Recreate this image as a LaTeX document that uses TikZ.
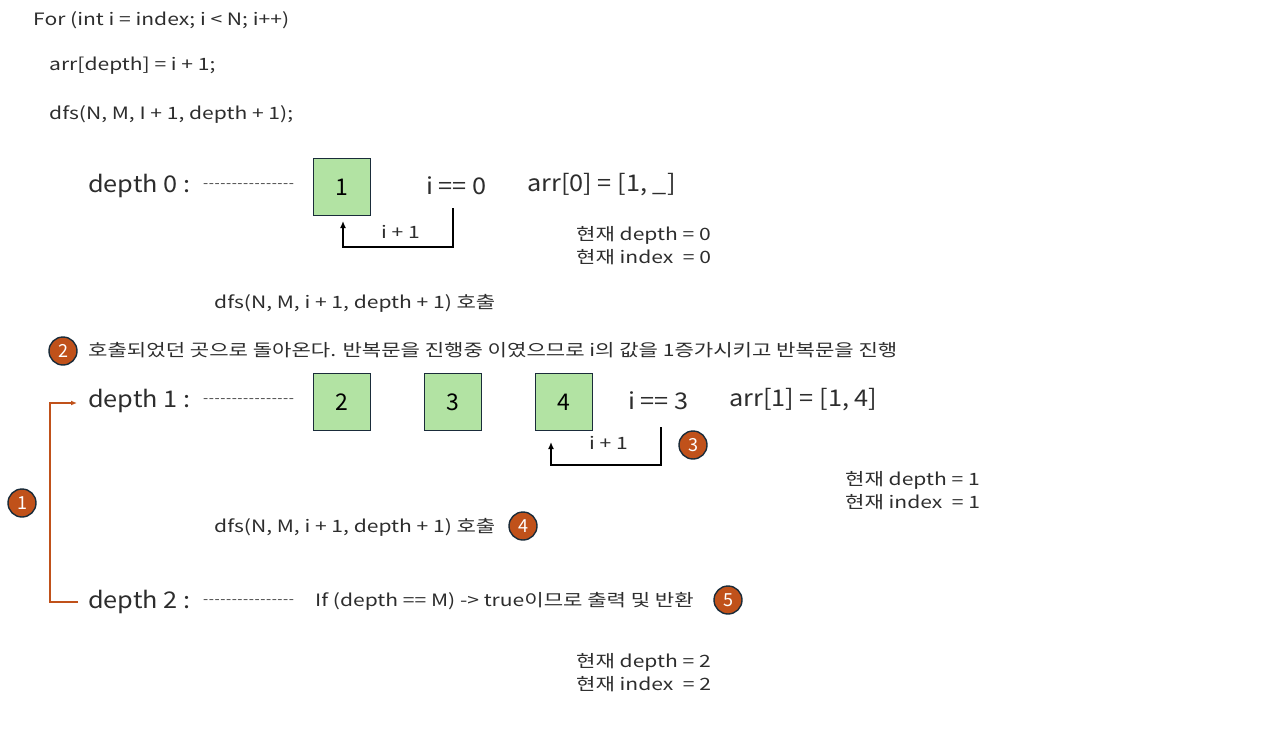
\documentclass[tikz,border=0pt]{standalone}
\usepackage{fontspec}
\setmainfont{Noto Sans CJK KR}
\newfontfamily\codefont{Noto Sans CJK KR}[FakeStretch=1.24]
\newfontfamily\depfont{Noto Sans CJK KR}[FakeStretch=1.1]
\usetikzlibrary{arrows.meta}
\definecolor{txt}{RGB}{45,45,45}
\definecolor{boxfill}{RGB}{178,227,163}
\definecolor{boxline}{RGB}{26,44,58}
\definecolor{badge}{RGB}{192,81,26}
\newcommand{\hy}{-\kern0.55pt}
\newcommand{\dashrow}{\hy\hy\hy\hy\hy\hy\hy\hy\hy\hy\hy\hy\hy\hy\hy\hy}
\tikzset{
  code/.style={anchor=west,inner sep=0pt,text=txt,font=\codefont\fontsize{17}{20}\selectfont},
  curtext/.style={anchor=west,inner sep=0pt,text=txt,align=left,font=\codefont\fontsize{17}{23}\selectfont},
  deplabel/.style={anchor=west,inner sep=0pt,text=txt,font=\depfont\fontsize{23}{26}\selectfont},
  dashes/.style={anchor=west,inner sep=0pt,text=txt,font=\codefont\fontsize{12}{13}\selectfont},
  numbox/.style={draw=boxline,fill=boxfill,line width=1.4pt,minimum width=57pt,minimum height=57pt,inner sep=0pt,text=black,font=\fontsize{23}{25}\selectfont},
  badgec/.style={circle,draw=boxline,fill=badge,line width=1.4pt,minimum size=28pt,inner sep=0pt,text=white,font=\fontsize{18}{19}\selectfont},
  loop/.style={line width=1.6pt,draw=black,-{Latex[length=7pt,width=6pt]}},
  back/.style={line width=1.6pt,draw=badge,-{Latex[length=6pt,width=5pt]}}
}
\begin{document}
\begin{tikzpicture}[x=1pt,y=-1pt]
\useasboundingbox (0,0) rectangle (1263,733);
\fill[white] (0,0) rectangle (1263,733);
% code
\node[code] (for) at (33,20) {For (int i = index; i < N; i++)};
\node[code] (arr) at (49,66) {arr[depth] = i + 1;};
\node[code] (dfs) at (49,114) {dfs(N, M, I + 1, depth + 1);};
% depth 0
\node[deplabel] (d0) at (88,186) {depth 0 :};
\node[dashes] (d0dash) at (203,186) {\dashrow};
\node[numbox] (b1) at (342,187) {1};
\node[deplabel] (i0) at (426,186) {i == 0};
\node[deplabel] (a0) at (527,185) {arr[0] = [1, \_]};
\coordinate (l0s) at (453,208);
\coordinate (l0b) at (453,247);
\coordinate (l0e) at (343,221);
\draw[loop] (l0s) -- (l0b) -| (l0e);
\node[code] (p0) at (381,232) {i + 1};
\node[curtext] (cur0) at (576,246) {현재 depth = 0\\현재 index~~= 0};
\node[code] (call0) at (214,303) {dfs(N, M, i + 1, depth + 1) 호출};
% step 2
\node[badgec] (c2) at (63,351) {2};
\node[code] (msg2) at (88,350) {호출되었던 곳으로 돌아온다. 반복문을 진행중 이였으므로 i의 값을 1증가시키고 반복문을 진행};
% depth 1
\node[deplabel] (d1) at (88,401) {depth 1 :};
\node[dashes] (d1dash) at (203,401) {\dashrow};
\node[numbox] (b2) at (342,402) {2};
\node[numbox] (b3) at (453,402) {3};
\node[numbox] (b4) at (564,402) {4};
\node[deplabel] (i3) at (628,401) {i == 3};
\node[deplabel] (a1) at (729,400) {arr[1] = [1, 4]};
\coordinate (l1s) at (661,427);
\coordinate (l1b) at (661,465);
\coordinate (l1e) at (551,442);
\draw[loop] (l1s) -- (l1b) -| (l1e);
\node[code] (p1) at (589,443) {i + 1};
\node[badgec] (c3) at (693,445) {3};
\node[curtext] (cur1) at (845,491) {현재 depth = 1\\현재 index~~= 1};
\node[badgec] (c1) at (22,503) {1};
\node[code] (call1) at (214,527) {dfs(N, M, i + 1, depth + 1) 호출};
\node[badgec] (c4) at (523,526) {4};
% depth 2
\node[deplabel] (d2) at (88,602) {depth 2 :};
\node[dashes] (d2dash) at (203,602) {\dashrow};
\node[code] (ret) at (315,601) {If (depth == M) -> true이므로 출력 및 반환};
\node[badgec] (c5) at (728,600) {5};
\node[curtext] (cur2) at (576,673) {현재 depth = 2\\현재 index~~= 2};
% return connector
\coordinate (r0) at (78,602);
\coordinate (r1) at (50,602);
\coordinate (r2) at (77,403);
\draw[back] (r0) -- (r1) |- (r2);
\end{tikzpicture}
\end{document}
